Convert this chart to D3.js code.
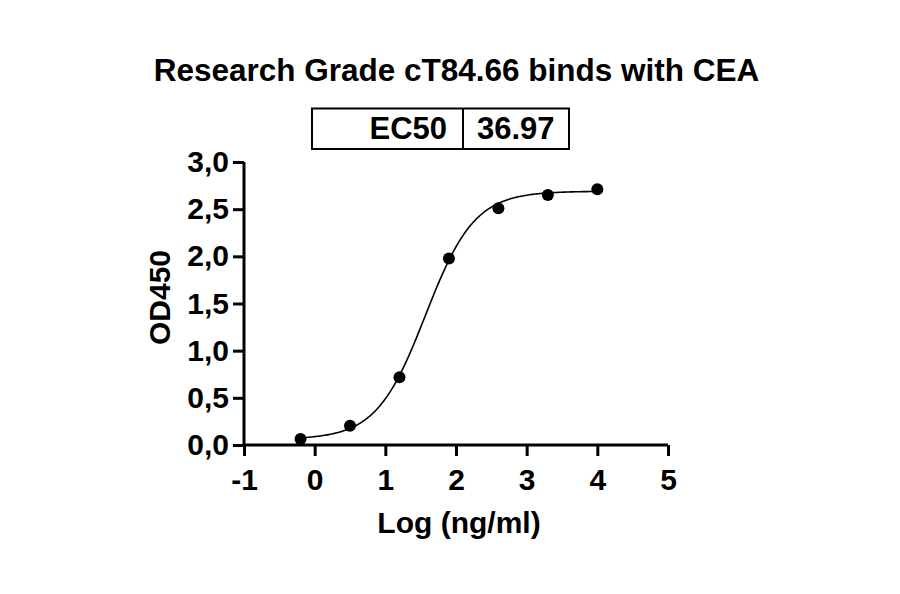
<!DOCTYPE html>
<html>
<head>
<meta charset="utf-8">
<script src="https://cdn.jsdelivr.net/npm/d3@7"></script>
<style>
  html, body { margin: 0; padding: 0; background: #fff; }
  svg { display: block; font-family: "Liberation Sans", Arial, sans-serif; font-weight: bold; }
</style>
</head>
<body>
<svg id="chart" width="900" height="594"></svg>
<script>
// ---- Data ----
const title = "Research Grade cT84.66 binds with CEA";
const xLabel = "Log (ng/ml)";
const yLabel = "OD450";
const logConc = [-0.2, 0.5, 1.2, 1.9, 2.6, 3.3, 4.0];
const od450 = [0.064, 0.204, 0.717, 1.978, 2.51, 2.65, 2.71];
const xTicks = [-1, 0, 1, 2, 3, 4, 5];
const yTicks = [0, 0.5, 1.0, 1.5, 2.0, 2.5, 3.0];
const ec50Label = "EC50";
const ec50Value = 36.97;
// 4PL fit parameters of the drawn curve
const fitBottom = 0.06;
const fitTop = 2.69;
const fitHill = 1.25;

// ---- Layout ----
const svg = d3.select("#chart");
svg.append("rect").attr("width", 900).attr("height", 594).attr("fill", "#fff");

const x = d3.scaleLinear().domain([-1, 5]).range([244, 668]);
const y = d3.scaleLinear().domain([0, 3]).range([445, 162]);

// Title
svg.append("text")
  .attr("x", 456.5).attr("y", 81)
  .attr("text-anchor", "middle")
  .style("font-size", "31.5px")
  .text(title);

// EC50 table
const box = svg.append("g");
box.append("rect")
  .attr("x", 312).attr("y", 108.5).attr("width", 257).attr("height", 40.5)
  .attr("fill", "none").attr("stroke", "#000").attr("stroke-width", 2);
box.append("line")
  .attr("x1", 463).attr("x2", 463).attr("y1", 108.5).attr("y2", 149)
  .attr("stroke", "#000").attr("stroke-width", 2);
box.append("text")
  .attr("x", 447).attr("y", 138.5).attr("text-anchor", "end")
  .style("font-size", "31px").text(ec50Label);
box.append("text")
  .attr("x", 477).attr("y", 138.5).attr("text-anchor", "start")
  .style("font-size", "31px").text(d3.format(".2f")(ec50Value));

// Axes
const fmt = d => d3.format(".1f")(d).replace(".", ",");
const yAxis = d3.axisLeft(y).tickValues(yTicks).tickFormat(fmt).tickSize(11).tickPadding(4);
const xAxis = d3.axisBottom(x).tickValues(xTicks).tickFormat(d3.format("d")).tickSize(11).tickPadding(13);

const gy = svg.append("g").attr("transform", `translate(${x(-1)},0)`).call(yAxis);
const gx = svg.append("g").attr("transform", `translate(0,${y(0)})`).call(xAxis);

[gx, gy].forEach(g => {
  g.select(".domain").attr("stroke", "#000").attr("stroke-width", 3);
  g.selectAll(".tick line").attr("stroke", "#000").attr("stroke-width", 3);
  g.selectAll(".tick text")
    .attr("fill", "#000")
    .style("font-family", "'Liberation Sans', Arial, sans-serif")
    .style("font-weight", "bold")
    .style("font-size", "30px");
});
gx.select(".domain").attr("d", `M${x(-1)},0H${x(5)}`);
gy.select(".domain").attr("d", `M0,${y(3)}V${y(0)}`);
gx.selectAll(".tick text").attr("dy", "0.71em");
// minus sign as hyphen like the reference
gx.selectAll(".tick text").text(d => String(d));

// Axis titles
svg.append("text")
  .attr("x", 459).attr("y", 533)
  .attr("text-anchor", "middle")
  .style("font-size", "30px")
  .text(xLabel);
svg.append("text")
  .attr("transform", "translate(170,297.5) rotate(-90)")
  .attr("text-anchor", "middle")
  .style("font-size", "30px")
  .text(yLabel);

// Fitted curve (4PL with EC50 from the table)
const logEC50 = Math.log10(ec50Value);
const fourPL = v => fitBottom + (fitTop - fitBottom) / (1 + Math.pow(10, (logEC50 - v) * fitHill));
const xs = d3.range(logConc[0], logConc[logConc.length - 1] + 0.0001, 0.02);
svg.append("path")
  .datum(xs)
  .attr("fill", "none").attr("stroke", "#000").attr("stroke-width", 1.6)
  .attr("d", d3.line().x(d => x(d)).y(d => y(fourPL(d))));

// Points
svg.append("g").selectAll("circle")
  .data(logConc.map((c, i) => ({c, v: od450[i]})))
  .join("circle")
  .attr("cx", d => x(d.c)).attr("cy", d => y(d.v))
  .attr("r", 6).attr("fill", "#000");
</script>
</body>
</html>
